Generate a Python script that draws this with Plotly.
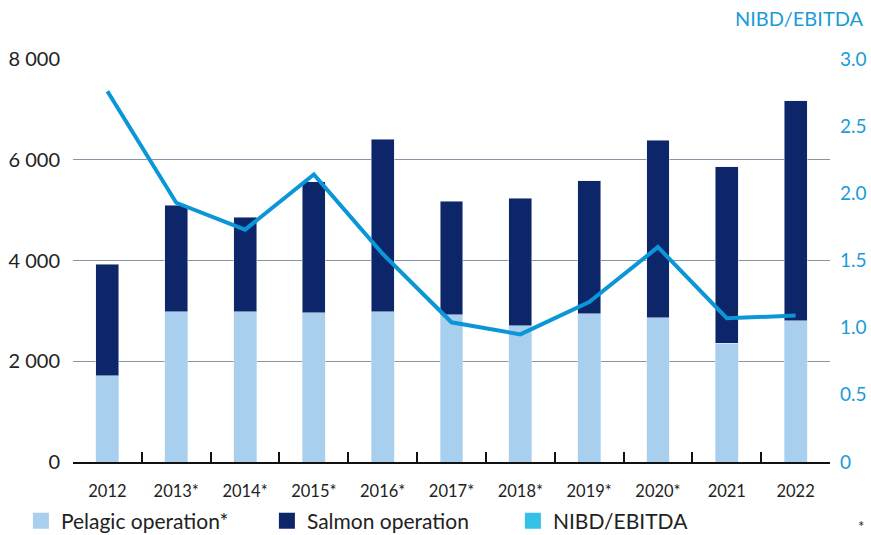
import plotly.graph_objects as go

years = ["2012", "2013*", "2014*", "2015*", "2016*", "2017*", "2018*", "2019*", "2020*", "2021", "2022"]
pelagic = [1710, 2980, 2980, 2960, 2980, 2920, 2700, 2940, 2860, 2360, 2800]
salmon = [2220, 2120, 1880, 2600, 3430, 2260, 2540, 2640, 3530, 3500, 4370]
nibd_ebitda = [2.76, 1.93, 1.73, 2.14, 1.55, 1.04, 0.95, 1.19, 1.60, 1.07, 1.09]

left_ticks = [0, 2000, 4000, 6000, 8000]
right_ticks = [0, 0.5, 1.0, 1.5, 2.0, 2.5, 3.0]
right_ticktext = ["0", "0.5", "1.0", "1.5", "2.0", "2.5", "3.0"]

C_PEL = "#a8cfee"
C_SAL = "#0c2669"
C_LINE = "#0b96d7"
C_LEG3 = "#35c0e8"
C_AX2 = "#1b9bd7"
FONT = "Lato"

fig = go.Figure()
fig.add_trace(go.Bar(x=years, y=pelagic, marker_color=C_PEL, showlegend=False, name="Pelagic operation*"))
fig.add_trace(go.Bar(x=years, y=salmon, marker_color=C_SAL, showlegend=False, name="Salmon operation"))
fig.add_trace(go.Scatter(x=years, y=nibd_ebitda, yaxis="y2", mode="lines",
                         line=dict(color=C_LINE, width=4), showlegend=False, name="NIBD/EBITDA"))

# legend proxies (square keys)
for nm, col in [("Pelagic operation*", C_PEL), ("Salmon operation", C_SAL), ("NIBD/EBITDA", C_LEG3)]:
    fig.add_trace(go.Scatter(x=[None], y=[None], mode="markers", name=nm,
                             marker=dict(symbol="square", size=16, color=col, line=dict(width=0))))

fig.update_layout(
    width=871, height=535,
    margin=dict(l=73, r=41, t=59, b=73, autoexpand=False),
    paper_bgcolor="white", plot_bgcolor="white",
    barmode="stack", bargap=0.667,
    separators=". ",
    font=dict(family=FONT, size=17, color="#222222"),
    hovermode=False,
    xaxis=dict(type="category", showgrid=False, showline=True, linecolor="#111111", linewidth=2,
               ticks="inside", tickson="boundaries", ticklen=10, tickcolor="#111111", tickwidth=1.5,
               tickfont=dict(size=16.5, color="#222222"), ticklabelstandoff=13, automargin=False,
               range=[-0.5, 10.5], zeroline=False),
    yaxis=dict(range=[0, 8000], tickvals=left_ticks, tickformat=",d", showgrid=True,
               gridcolor="#8a94a2", gridwidth=1.2, zeroline=False, showline=False, ticks="",
               tickfont=dict(size=20, color="#222222"), ticklabelstandoff=12, automargin=False),
    yaxis2=dict(range=[0, 3], overlaying="y", side="right", tickvals=right_ticks, ticktext=right_ticktext,
                showgrid=False, zeroline=False, showline=False, ticks="", automargin=False,
                tickfont=dict(size=19, color=C_AX2), ticklabelstandoff=9),
    legend=dict(orientation="h", xref="container", yref="container", x=0.024, y=0.026,
                xanchor="left", yanchor="middle", entrywidth=201, itemwidth=30, traceorder="normal",
                font=dict(size=21, color="#222222"), bgcolor="rgba(0,0,0,0)"),
    annotations=[
        dict(text="NIBD/EBITDA", xref="paper", yref="paper", x=1.0476, y=1.1017,
             xanchor="right", yanchor="middle", showarrow=False, font=dict(size=20, color=C_AX2)),
        dict(text="*", xref="paper", yref="paper", x=1.0476, y=-0.158,
             xanchor="right", yanchor="middle", showarrow=False, font=dict(size=15, color="#222222")),
    ],
)

fig.write_html("out.html", config={"displayModeBar": False},
               post_script="document.body.style.margin='0';document.body.style.padding='0';")
